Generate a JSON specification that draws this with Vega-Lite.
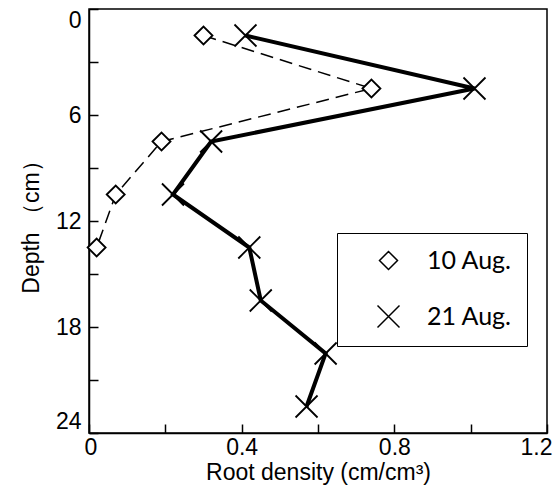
{
  "$schema": "https://vega.github.io/schema/vega-lite/v6.json",
  "width": 458,
  "height": 424,
  "autosize": "none",
  "padding": {"left": 89, "top": 9, "right": 13, "bottom": 57},
  "background": "white",
  "config": {
    "view": {"stroke": "black", "strokeWidth": 1.5},
    "font": "Liberation Sans",
    "axis": {
      "grid": false,
      "domainColor": "black",
      "domainWidth": 1.5,
      "tickColor": "black",
      "tickWidth": 1.5,
      "tickSize": -9,
      "labelColor": "black",
      "titleColor": "black",
      "labelFontSize": 23,
      "titleFontSize": 23,
      "titleFontWeight": "normal",
      "labelFont": "Liberation Sans",
      "titleFont": "Liberation Sans"
    }
  },
  "data": {
    "values": [
      {"series": "10 Aug.", "density": 0.30, "depth": 1.5},
      {"series": "10 Aug.", "density": 0.74, "depth": 4.5},
      {"series": "10 Aug.", "density": 0.19, "depth": 7.5},
      {"series": "10 Aug.", "density": 0.07, "depth": 10.5},
      {"series": "10 Aug.", "density": 0.02, "depth": 13.5},
      {"series": "21 Aug.", "density": 0.41, "depth": 1.5},
      {"series": "21 Aug.", "density": 1.01, "depth": 4.5},
      {"series": "21 Aug.", "density": 0.32, "depth": 7.5},
      {"series": "21 Aug.", "density": 0.22, "depth": 10.5},
      {"series": "21 Aug.", "density": 0.42, "depth": 13.5},
      {"series": "21 Aug.", "density": 0.45, "depth": 16.5},
      {"series": "21 Aug.", "density": 0.62, "depth": 19.5},
      {"series": "21 Aug.", "density": 0.57, "depth": 22.5}
    ]
  },
  "encoding": {
    "x": {
      "field": "density",
      "type": "quantitative",
      "scale": {"domain": [0, 1.2], "nice": false, "zero": false},
      "axis": {
        "values": [0, 0.2, 0.4, 0.6, 0.8, 1.0, 1.2],
        "format": "~g",
        "labelExpr": "round(datum.value*10)%4===0 ? datum.label : ''",
        "labelFlush": true,
        "labelFlushOffset": 5,
        "title": "Root density (cm/cm³)",
        "labelPadding": 12,
        "titlePadding": 2
      }
    },
    "y": {
      "field": "depth",
      "type": "quantitative",
      "scale": {"domain": [0, 24], "nice": false, "reverse": true},
      "axis": {
        "values": [0, 3, 6, 9, 12, 15, 18, 21, 24],
        "labelExpr": "datum.value%6===0 ? datum.label : ''",
        "labelFlush": true,
        "title": "Depth （cm）",
        "labelPadding": 17,
        "titlePadding": 12
      }
    }
  },
  "layer": [
    {
      "transform": [{"filter": "datum.series === '10 Aug.'"}],
      "mark": {"type": "line", "color": "black", "strokeDash": [13, 7], "strokeWidth": 1.5},
      "encoding": {
        "order": {"field": "depth", "type": "quantitative"}
      }
    },
    {
      "transform": [{"filter": "datum.series === '21 Aug.'"}],
      "mark": {"type": "line", "color": "black", "strokeWidth": 4},
      "encoding": {
        "order": {"field": "depth", "type": "quantitative"}
      }
    },
    {
      "mark": {"type": "point", "filled": false, "stroke": "black", "fill": "white", "fillOpacity": 1, "opacity": 1, "size": 400, "strokeWidth": 1.8},
      "encoding": {
        "shape": {
          "field": "series",
          "type": "nominal",
          "scale": {
            "domain": ["10 Aug.", "21 Aug."],
            "range": ["M-0.9,0L0,-0.9L0.9,0L0,0.9Z", "M-1.1,-1.1L1.1,1.1M-1.1,1.1L1.1,-1.1"]
          },
          "legend": {
            "orient": "none",
            "legendX": 248,
            "legendY": 224,
            "title": null,
            "strokeColor": "black",
            "fillColor": "white",
            "padding": 15,
            "symbolSize": 400,
            "symbolOffset": 24,
            "labelOffset": 26,
            "rowPadding": 28,
            "labelFont": "Lato",
            "labelFontSize": 25,
            "labelColor": "black"
          }
        }
      }
    }
  ]
}
